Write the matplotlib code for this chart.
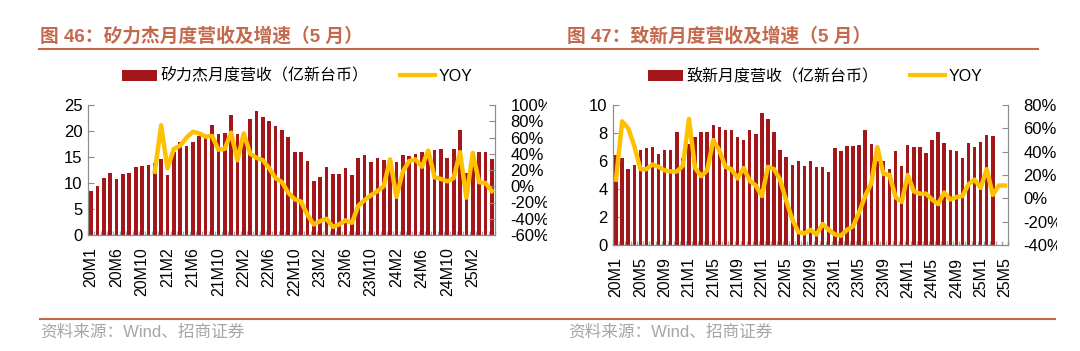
import matplotlib
matplotlib.use('Agg')
import matplotlib.pyplot as plt
import numpy as np
from matplotlib.patches import Patch
from matplotlib.lines import Line2D
from matplotlib.transforms import Bbox, TransformedBbox

plt.rcParams['font.family'] = ['Liberation Sans', 'Noto Sans CJK SC', 'DejaVu Sans']

# 矽力杰 monthly revenue (亿新台币) and YOY (%)
sili_rev = [8.5, 9.5, 10.9, 11.9, 10.7, 11.7, 12.0, 13.0, 13.3, 13.5,
            13.9, 14.6, 11.5, 15.9, 17.8, 17.1, 17.8, 19.1, 18.6, 21.2,
            19.4, 19.6, 23.0, 19.4, 19.6, 22.3, 23.8, 22.7, 22.0, 21.0,
            20.1, 18.9, 16.0, 16.0, 14.3, 10.4, 11.1, 13.1, 11.7, 11.7,
            12.8, 11.5, 14.9, 15.3, 14.1, 14.9, 14.4, 14.8, 14.0, 15.3,
            15.1, 15.6, 16.0, 16.3, 16.4, 16.5, 14.9, 16.5, 20.1, 11.9,
            16.0, 16.0, 15.9, 14.6]
sili_yoy = [np.nan] * 10 + [
    18, 75, 22, 46, 50, 60, 67, 65, 61, 62,
    45, 46, 66, 32, 65, 40, 35, 32, 22, 10,
    5, -8, -16, -19, -35, -47, -43, -40, -50, -47,
    -42, -45, -24, -17, -11, -6, 0, 33, -13, 18,
    31, 33, 24, 44, 11, 9, 6, 10, 42, -14,
    41, 5, 4, -6]
sili_ticks = ['20M1', '20M6', '20M10', '21M2', '21M6', '21M10', '22M2', '22M6',
              '22M10', '23M2', '23M6', '23M10', '24M2', '24M6', '24M10', '25M2']

# 致新 monthly revenue (亿新台币) and YOY (%)
zhixin_rev = [6.4, 6.2, 5.4, 5.7, 6.8, 6.9, 7.0, 6.5, 6.8, 6.8,
              8.1, 6.2, 7.2, 7.7, 8.05, 8.1, 8.6, 8.45, 8.2, 8.2,
              7.7, 7.5, 8.2, 7.9, 9.4, 9.0, 8.1, 6.8, 6.3, 5.7,
              6.0, 5.65, 6.0, 5.6, 5.55, 5.2, 6.9, 6.75, 7.1, 7.05,
              7.15, 8.2, 7.2, 6.0, 6.0, 5.4, 6.7, 5.65, 7.15, 7.0,
              7.0, 6.6, 7.5, 8.1, 7.3, 6.8, 6.7, 6.25, 7.3, 7.0,
              7.35, 7.85, 7.8, np.nan, np.nan]
zhixin_yoy = [16, 66, 60, 45, 25, 25, 29, 27, 24, 23,
              23, 28, 68, 26, 19, 24, 50, 41, 27, 25,
              17, 26, 15, 11, 2, 27, 25, 16, -2, -18,
              -29, -30, -27, -31, -22, -27, -31, -32, -27, -24,
              -12, 2, 13, 44, 21, 20, 1, -3, 20, 6,
              4, 4, -1, -5, 5, -1, 1, 2, 12, 16,
              9, 25, 3, 11, 11]
zhixin_ticks = ['20M1', '20M5', '20M9', '21M1', '21M5', '21M9', '22M1', '22M5', '22M9',
                '23M1', '23M5', '23M9', '24M1', '24M5', '24M9', '25M1', '25M5']

RED = '#A3171B'
YEL = '#FFC000'
TITLE_C = '#C4694B'
GRID_C = '#8C8C8C'

W, H = 1080, 351
fig = plt.figure(figsize=(W / 100, H / 100), dpi=100)


def fx(px):
    return px / W


def fy(py):
    return 1 - py / H


def panel(x0, x1, y_top, y_bot, rev, yoy, ticks, yticks, y2lim, y2step, name, clip_x, leg_x):
    ax = fig.add_axes([fx(x0), fy(y_bot), fx(x1 - x0), fy(y_top) - fy(y_bot)])
    ax2 = ax.twinx()
    n = len(rev)
    x = np.arange(n)
    ax.bar(x, rev, width=0.58, color=RED, zorder=2)
    ax2.plot(x, yoy, color=YEL, lw=3.2, solid_joinstyle='round', zorder=3)

    ax.set_xlim(-0.5, n - 0.5)
    ax.set_ylim(yticks[0], yticks[-1])
    ax.set_yticks(yticks)
    ax.set_yticklabels([str(v) for v in yticks])
    ax2.set_ylim(*y2lim)
    ax.set_xticks(x[::4])
    ax.set_xticklabels(ticks, rotation=90, fontsize=11.5, va='top')
    ax.set_xticks(np.arange(-0.5, n, 1), minor=True)
    ax.tick_params(axis='x', which='major', length=0, pad=9)
    ax.tick_params(axis='x', which='minor', direction='in', length=3, color='#A6A6A6', width=1)
    ax.tick_params(axis='y', direction='in', length=4, color=GRID_C, labelsize=12, pad=4)
    y2t = np.arange(y2lim[0], y2lim[1] + 1, y2step)
    ax2.set_yticks(y2t)
    ax2.set_yticklabels([f'{v}%' for v in y2t])
    ax2.tick_params(axis='y', direction='in', length=4, color=GRID_C, labelsize=12, pad=11)

    for a in (ax, ax2):
        a.spines['top'].set_visible(False)
        for s in ('left', 'right', 'bottom'):
            a.spines[s].set_color(GRID_C)
            a.spines[s].set_linewidth(0.8)

    clip = TransformedBbox(Bbox([[0, 0], [fx(clip_x), 1]]), fig.transFigure)
    for t in ax2.get_yticklabels():
        t.set_clip_on(True)
        t.set_clip_box(clip)

    handles = [Patch(facecolor=RED, edgecolor='none'), Line2D([], [], color=YEL, lw=3)]
    ax.legend(handles, [name, 'YOY'], ncol=2, frameon=False, fontsize=11.5,
              loc='center', bbox_to_anchor=(fx(leg_x), fy(76)), bbox_transform=fig.transFigure,
              handlelength=2.2, handleheight=0.7, handletextpad=0.2, columnspacing=2.0)
    return ax


panel(88, 495, 105, 235, sili_rev, sili_yoy, sili_ticks, [0, 5, 10, 15, 20, 25], (-60, 100), 20,
      '矽力杰月度营收（亿新台币）', 547, 297)
panel(613, 1008, 105, 245, zhixin_rev, zhixin_yoy, zhixin_ticks, [0, 2, 4, 6, 8, 10], (-40, 80), 20,
      '致新月度营收（亿新台币）', 1057, 815)

fig.text(fx(40), fy(36), '图 46：矽力杰月度营收及增速（5 月）', color=TITLE_C, fontsize=13.5,
         fontweight='bold', va='center', ha='left')
fig.text(fx(567), fy(36), '图 47：致新月度营收及增速（5 月）', color=TITLE_C, fontsize=13.5,
         fontweight='bold', va='center', ha='left')
fig.add_artist(Line2D([fx(39), fx(1038)], [fy(48.5), fy(48.5)], color=TITLE_C, lw=1.5))
fig.add_artist(Line2D([fx(40), fx(1055)], [fy(319), fy(319)], color=TITLE_C, lw=1.5))
fig.text(fx(40), fy(332), '资料来源：Wind、招商证券', color='#A6A6A6', fontsize=12, va='center')
fig.text(fx(568), fy(332), '资料来源：Wind、招商证券', color='#A6A6A6', fontsize=12, va='center')

fig.savefig('out.png', dpi=100)
